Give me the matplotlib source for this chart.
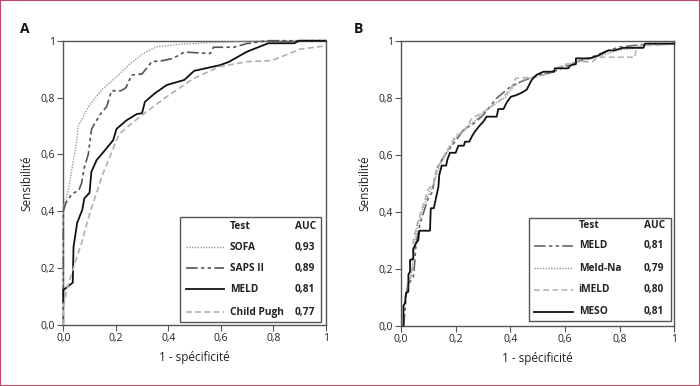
import matplotlib
matplotlib.use("Agg")
import matplotlib.pyplot as plt
from matplotlib.patches import Rectangle

plt.rcParams['font.family'] = ['Open Sans', 'DejaVu Sans']

# ---------------- data: panel A ----------------
sofa_x = [0, 0, 0.01, 0.02, 0.035, 0.05, 0.057, 0.08, 0.1, 0.15, 0.203, 0.25, 0.305, 0.356, 0.45, 0.55, 0.7, 0.85, 1.0]
sofa_y = [0, 0.42, 0.44, 0.48, 0.56, 0.64, 0.70, 0.74, 0.774, 0.83, 0.873, 0.915, 0.955, 0.979, 0.988, 0.993, 0.998, 1.0, 1.0]

saps_x = [0, 0, 0.01, 0.032, 0.06, 0.07, 0.079, 0.095, 0.108, 0.14, 0.165, 0.184, 0.22, 0.239, 0.26, 0.30, 0.337, 0.38, 0.419, 0.461, 0.56, 0.572, 0.65, 0.7, 0.78, 1.0]
saps_y = [0, 0.40, 0.43, 0.46, 0.475, 0.50, 0.55, 0.60, 0.69, 0.74, 0.768, 0.824, 0.824, 0.835, 0.879, 0.883, 0.926, 0.93, 0.938, 0.96, 0.955, 0.977, 0.977, 0.99, 1.0, 1.0]

meldA_x = [0, 0, 0.01, 0.036, 0.039, 0.053, 0.072, 0.08, 0.10, 0.107, 0.127, 0.159, 0.19, 0.203, 0.241, 0.28, 0.30, 0.311, 0.349, 0.394, 0.461, 0.499, 0.597, 0.63, 0.699, 0.781, 0.88, 0.9, 1.0]
meldA_y = [0.079, 0.123, 0.13, 0.149, 0.275, 0.36, 0.404, 0.445, 0.465, 0.539, 0.58, 0.615, 0.65, 0.69, 0.72, 0.742, 0.745, 0.785, 0.815, 0.844, 0.862, 0.894, 0.914, 0.925, 0.961, 0.991, 0.991, 1.0, 1.0]

child_x = [0, 0, 0.013, 0.04, 0.07, 0.1, 0.15, 0.203, 0.216, 0.292, 0.394, 0.496, 0.597, 0.699, 0.794, 0.902, 1.0]
child_y = [0, 0.06, 0.123, 0.205, 0.29, 0.39, 0.53, 0.65, 0.674, 0.733, 0.803, 0.867, 0.909, 0.926, 0.93, 0.97, 0.982]

# ---------------- data: panel B ----------------
meldB_x = [0.01, 0.02, 0.03, 0.045, 0.05, 0.055, 0.07, 0.09, 0.1, 0.115, 0.125, 0.135, 0.16, 0.2, 0.23, 0.265, 0.3, 0.35, 0.4, 0.42, 0.47, 0.5, 0.55, 0.6, 0.65, 0.7, 0.75, 0.8, 0.9, 1.0]
meldB_y = [0.0, 0.12, 0.15, 0.17, 0.22, 0.29, 0.36, 0.42, 0.45, 0.47, 0.53, 0.56, 0.6, 0.65, 0.69, 0.71, 0.74, 0.8, 0.84, 0.85, 0.87, 0.88, 0.89, 0.91, 0.93, 0.945, 0.965, 0.98, 0.99, 0.99]

meldna_x = [0.015, 0.03, 0.04, 0.05, 0.06, 0.08, 0.1, 0.12, 0.14, 0.17, 0.2, 0.24, 0.27, 0.3, 0.34, 0.38, 0.41, 0.44, 0.5, 0.55, 0.6, 0.65, 0.7, 0.75, 0.8, 0.85, 0.88, 1.0]
meldna_y = [0.1, 0.15, 0.2, 0.29, 0.35, 0.41, 0.46, 0.5, 0.56, 0.61, 0.66, 0.7, 0.72, 0.75, 0.78, 0.8, 0.84, 0.86, 0.88, 0.895, 0.915, 0.93, 0.94, 0.955, 0.97, 0.975, 0.985, 0.99]

imeld_x = [0.02, 0.025, 0.04, 0.045, 0.06, 0.08, 0.1, 0.12, 0.13, 0.16, 0.2, 0.23, 0.26, 0.3, 0.33, 0.36, 0.4, 0.42, 0.5, 0.55, 0.58, 0.6, 0.62, 0.64, 0.7, 0.72, 0.856, 0.86, 0.88, 1.0]
imeld_y = [0.13, 0.15, 0.18, 0.30, 0.36, 0.42, 0.48, 0.5, 0.55, 0.6, 0.67, 0.68, 0.73, 0.75, 0.77, 0.79, 0.83, 0.87, 0.875, 0.89, 0.91, 0.92, 0.92, 0.928, 0.928, 0.944, 0.944, 0.97, 0.985, 0.99]

meso_x = [0.009, 0.009, 0.015, 0.018, 0.027, 0.027, 0.033, 0.033, 0.045, 0.045, 0.055, 0.063, 0.067, 0.106, 0.109, 0.12, 0.137, 0.14, 0.149, 0.165, 0.17, 0.179, 0.2, 0.21, 0.23, 0.234, 0.25, 0.259, 0.27, 0.287, 0.301, 0.313, 0.35, 0.356, 0.375, 0.387, 0.402, 0.42, 0.441, 0.46, 0.478, 0.496, 0.521, 0.56, 0.563, 0.612, 0.62, 0.64, 0.64, 0.691, 0.722, 0.759, 0.78, 0.813, 0.887, 0.893, 1.0]
meso_y = [0.0, 0.07, 0.08, 0.114, 0.12, 0.18, 0.19, 0.231, 0.235, 0.27, 0.29, 0.30, 0.334, 0.334, 0.413, 0.413, 0.489, 0.53, 0.563, 0.563, 0.585, 0.608, 0.608, 0.633, 0.633, 0.647, 0.647, 0.665, 0.682, 0.703, 0.717, 0.735, 0.735, 0.762, 0.762, 0.785, 0.805, 0.81, 0.819, 0.83, 0.864, 0.882, 0.893, 0.893, 0.905, 0.905, 0.915, 0.92, 0.94, 0.94, 0.95, 0.968, 0.968, 0.977, 0.977, 0.992, 0.992]

ticks = [0, 0.2, 0.4, 0.6, 0.8, 1.0]
tick_labels = ['0,0', '0,2', '0,4', '0,6', '0,8', '1']

namesA = ['SOFA', 'SAPS II', 'MELD', 'Child Pugh']
aucA = ['0,93', '0,89', '0,81', '0,77']
namesB = ['MELD', 'Meld-Na', 'iMELD', 'MESO']
aucB = ['0,81', '0,79', '0,80', '0,81']

DASHDOT = (0, (7, 2, 2, 2, 2, 2))
DOT = (0, (1, 1))
DASH = (0, (3.5, 2))

stylesA = [dict(color='#9a9a9a', lw=1.0, ls=DOT),
           dict(color='#555555', lw=1.2, ls=DASHDOT),
           dict(color='#111111', lw=1.3, ls='-'),
           dict(color='#b0b0b0', lw=1.2, ls=DASH)]
stylesB = [dict(color='#666666', lw=1.2, ls=DASHDOT),
           dict(color='#9a9a9a', lw=1.0, ls=DOT),
           dict(color='#b5b5b5', lw=1.2, ls=DASH),
           dict(color='#111111', lw=1.3, ls='-')]

W, H = 700, 386
fig = plt.figure(figsize=(7.0, 3.86), dpi=100)

def fx(px):
    return px / W

def fy(py):
    return 1 - py / H

axA = fig.add_axes([fx(63.3), fy(325.0), (325.7 - 63.3) / W, (325.0 - 40.7) / H])
axB = fig.add_axes([fx(401.0), fy(325.7), (674.3 - 401.0) / W, (325.7 - 41.3) / H])

def style_axes(ax):
    ax.set_xlim(0, 1)
    ax.set_ylim(0, 1)
    ax.set_xticks(ticks)
    ax.set_xticklabels(tick_labels)
    ax.set_yticks(ticks)
    ax.set_yticklabels(tick_labels)
    for s in ax.spines.values():
        s.set_color('#555555')
        s.set_linewidth(1.0)
    ax.tick_params(direction='out', length=4, width=0.8, colors='#555555',
                   labelcolor='#222222', labelsize=7.5, pad=2)
    ax.set_xlabel('1 - spécificité', fontsize=8.5, color='#222222', labelpad=5)
    ax.set_ylabel('Sensibilité', fontsize=8.5, color='#222222', labelpad=5)

style_axes(axA)
style_axes(axB)

for (x, y), st in zip([(sofa_x, sofa_y), (saps_x, saps_y), (meldA_x, meldA_y), (child_x, child_y)], stylesA):
    axA.plot(x, y, clip_on=False, zorder=3, **st)
for (x, y), st in zip([(meldB_x, meldB_y), (meldna_x, meldna_y), (imeld_x, imeld_y), (meso_x, meso_y)], stylesB):
    axB.plot(x, y, clip_on=False, zorder=3, **st)

FS = 7.3

def legend(box, rows_y, header_y, line_x, name_x, auc_right, names, aucs, styles):
    x0, y0, x1, y1 = box
    r = Rectangle((fx(x0), fy(y1)), (x1 - x0) / W, (y1 - y0) / H, transform=fig.transFigure,
                  facecolor='white', edgecolor='#555555', lw=1.0, zorder=5)
    fig.add_artist(r)
    fig.text(fx(name_x), fy(header_y), 'Test', fontsize=FS, fontweight='bold',
             color='#222222', va='center', ha='left', zorder=6)
    fig.text(fx(auc_right), fy(header_y), 'AUC', fontsize=FS, fontweight='bold',
             color='#222222', va='center', ha='right', zorder=6)
    for yy, n, a, st in zip(rows_y, names, aucs, styles):
        ln = plt.Line2D([fx(line_x[0]), fx(line_x[1])], [fy(yy), fy(yy)], transform=fig.transFigure,
                        zorder=6, **st)
        fig.add_artist(ln)
        fig.text(fx(name_x), fy(yy), n, fontsize=FS, fontweight='bold',
                 color='#222222', va='center', ha='left', zorder=6)
        fig.text(fx(auc_right - 1), fy(yy), a, fontsize=FS, fontweight='bold',
                 color='#222222', va='center', ha='right', zorder=6)

legend((180, 217, 321, 321.7), [247, 268.3, 289.3, 312.3], 226.7,
       (185.7, 224), 230, 316, namesA, aucA, stylesA)
legend((529.3, 218, 670.7, 321), [245.7, 268.3, 289.7, 311.7], 225.3,
       (534, 572.7), 578.7, 665, namesB, aucB, stylesB)

fig.text(fx(20), fy(29), 'A', fontsize=10, fontweight='bold', color='#111111', va='center', ha='left')
fig.text(fx(354), fy(29), 'B', fontsize=10, fontweight='bold', color='#111111', va='center', ha='left')

border = Rectangle((0, 0), 1, 1, transform=fig.transFigure, fill=False,
                   edgecolor='#c2466c', lw=1.5, zorder=10)
fig.add_artist(border)

fig.savefig('out.png', dpi=100)
